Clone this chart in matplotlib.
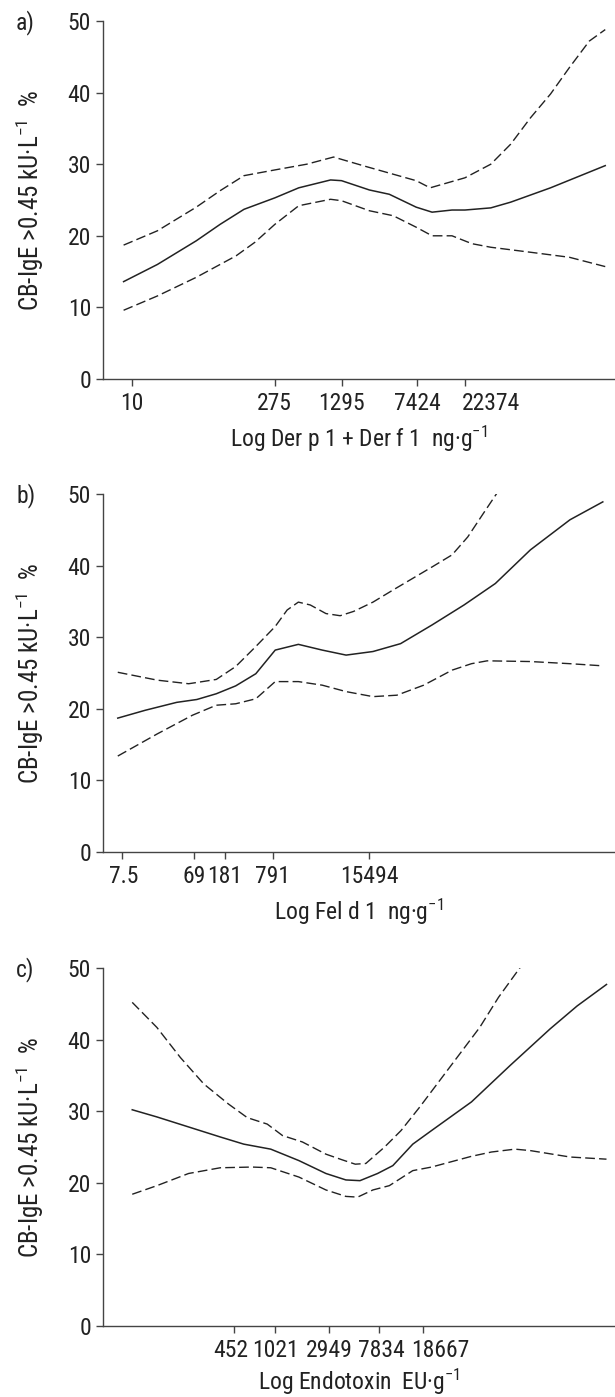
import numpy as np
import matplotlib.pyplot as plt
from matplotlib.transforms import ScaledTranslation

plt.rcParams['font.family'] = ['Roboto Condensed', 'DejaVu Sans']
plt.rcParams['mathtext.fontset'] = 'custom'
plt.rcParams['mathtext.rm'] = 'Roboto Condensed'
plt.rcParams['mathtext.it'] = 'Roboto Condensed'

# data: x as log10 of concentration, y as % CB-IgE > 0.45
# panel a: Der p 1 + Der f 1
a_ticks = ['10', '275', '1295', '7424', '22374']
a_x_fit = [0.92, 1.26, 1.65, 1.89, 2.13, 2.44, 2.68, 3.0, 3.11, 3.39, 3.59, 3.86, 4.02, 4.22,
           4.35, 4.61, 4.81, 5.21, 5.76]
a_fit = [13.6, 16.0, 19.3, 21.6, 23.7, 25.3, 26.7, 27.8, 27.7, 26.4, 25.8, 24.0, 23.3, 23.6,
         23.6, 23.9, 24.7, 26.7, 29.8]
a_x_up = [0.92, 1.26, 1.65, 1.89, 2.13, 2.44, 2.76, 3.03, 3.35, 3.63, 3.86, 4.0, 4.35, 4.61,
          4.81, 5.01, 5.21, 5.4, 5.6, 5.76]
a_up = [18.7, 20.7, 24.0, 26.3, 28.4, 29.2, 30.0, 31.0, 29.7, 28.6, 27.7, 26.7, 28.1, 30.0,
        32.8, 36.5, 39.8, 43.5, 47.2, 48.8]
a_x_lo = [0.92, 1.26, 1.65, 2.05, 2.24, 2.44, 2.68, 3.0, 3.11, 3.39, 3.63, 3.86, 4.02, 4.22,
          4.42, 4.61, 5.01, 5.4, 5.76]
a_lo = [9.6, 11.6, 14.2, 17.2, 19.1, 21.6, 24.2, 25.1, 24.9, 23.5, 22.8, 21.2, 20.0, 20.0,
        18.9, 18.4, 17.7, 17.0, 15.7]

# panel b: Fel d 1
b_ticks = ['7.5', '69', '181', '791', '15494']
b_x_fit = [0.82, 1.19, 1.61, 1.88, 2.14, 2.40, 2.67, 2.93, 3.24, 3.56, 3.88, 4.24, 4.61, 5.03,
           5.46, 5.88, 6.35, 6.88, 7.32]
b_fit = [18.7, 19.8, 20.9, 21.3, 22.1, 23.2, 24.9, 28.2, 29.0, 28.2, 27.5, 28.0, 29.1, 31.7,
         34.5, 37.5, 42.2, 46.4, 48.9]
b_x_up = [0.82, 1.35, 1.77, 2.14, 2.40, 2.67, 2.93, 3.09, 3.24, 3.40, 3.61, 3.80, 3.98, 4.24,
          4.51, 4.77, 5.03, 5.30, 5.51, 5.72, 5.90]
b_up = [25.1, 24.0, 23.5, 24.1, 25.9, 28.7, 31.5, 33.8, 34.9, 34.5, 33.3, 33.0, 33.6, 34.9,
        36.6, 38.2, 39.8, 41.5, 44.0, 47.3, 50.1]
b_x_lo = [0.82, 1.35, 1.82, 2.14, 2.40, 2.67, 2.93, 3.24, 3.56, 3.88, 4.24, 4.56, 4.92, 5.30,
          5.56, 5.77, 6.35, 6.88, 7.32]
b_lo = [13.4, 16.5, 19.1, 20.5, 20.7, 21.4, 23.8, 23.8, 23.3, 22.4, 21.7, 21.9, 23.3, 25.4,
        26.3, 26.7, 26.6, 26.3, 26.0]

# panel c: Endotoxin
c_ticks = ['452', '1021', '2949', '7834', '18667']
c_x_fit = [1.79, 2.00, 2.27, 2.54, 2.74, 2.97, 3.21, 3.44, 3.61, 3.73, 3.88, 4.01, 4.18, 4.34,
           4.68, 5.01, 5.35, 5.58, 5.83]
c_fit = [30.2, 29.2, 27.8, 26.4, 25.4, 24.7, 23.1, 21.3, 20.4, 20.3, 21.3, 22.4, 25.4, 27.3,
         31.3, 36.4, 41.5, 44.7, 47.7]
c_x_up = [1.79, 2.00, 2.20, 2.40, 2.61, 2.77, 2.94, 3.07, 3.24, 3.44, 3.58, 3.69, 3.78, 3.94,
          4.08, 4.24, 4.41, 4.58, 4.75, 4.91, 5.10]
c_up = [45.2, 41.7, 37.5, 33.8, 31.0, 29.1, 28.2, 26.6, 25.7, 24.0, 23.2, 22.6, 22.7, 25.0,
        27.3, 30.6, 34.3, 38.0, 41.7, 45.9, 50.2]
c_x_lo = [1.79, 2.00, 2.27, 2.54, 2.81, 2.97, 3.21, 3.44, 3.61, 3.71, 3.84, 3.98, 4.18, 4.34,
          4.68, 4.85, 5.05, 5.18, 5.52, 5.83]
c_lo = [18.4, 19.6, 21.3, 22.1, 22.2, 22.1, 20.8, 19.0, 18.1, 18.0, 19.0, 19.6, 21.7, 22.2,
        23.7, 24.3, 24.7, 24.5, 23.6, 23.3]

panels = [
    ('a)', a_ticks, [0, 0, 0, 0, 26], (0.713, 5.848), a_x_fit, a_fit, a_x_up, a_up, a_x_lo, a_lo,
     'Log Der p 1 + Der f 1  ng·g$^{-1}$', -0.125),
    ('b)', b_ticks, [2, 0, 0, 0, 0], (0.622, 7.47), b_x_fit, b_fit, b_x_up, b_up, b_x_lo, b_lo,
     'Log Fel d 1  ng·g$^{-1}$', -0.125),
    ('c)', c_ticks, [-3, 0, 0, 2, 17], (1.541, 5.894), c_x_fit, c_fit, c_x_up, c_up, c_x_lo, c_lo,
     'Log Endotoxin  EU·g$^{-1}$', -0.113),
]

W, H = 615, 1397
fig = plt.figure(figsize=(W / 100, H / 100), dpi=100)
col = '#222222'
tops = [21, 494, 968]
fs = 17

for (lab, ticks, shifts, xlim, xf, yf, xu, yu, xl, yl, xlab, xly), top in zip(panels, tops):
    ax = fig.add_axes([103 / W, 1 - (top + 358) / H, 511 / W, 358 / H])
    ax.plot(xf, yf, color=col, lw=1.1)
    ax.plot(xu, yu, color=col, lw=1.0, dashes=(7, 3))
    ax.plot(xl, yl, color=col, lw=1.0, dashes=(7, 3))
    ax.set_xlim(*xlim)
    ax.set_ylim(0, 50)
    ax.set_xticks(np.log10([float(t) for t in ticks]))
    ax.set_xticklabels(ticks)
    ax.set_yticks([0, 10, 20, 30, 40, 50])
    for s in ['top', 'right']:
        ax.spines[s].set_visible(False)
    for s in ['left', 'bottom']:
        ax.spines[s].set_color('#444444')
        ax.spines[s].set_linewidth(1.0)
    ax.tick_params(length=5, width=1.0, color='#444444', labelsize=fs, labelcolor=col)
    ax.tick_params(axis='x', pad=4.5)
    ax.tick_params(axis='y', pad=3.5)
    for tl, dx in zip(ax.get_xticklabels(), shifts):
        tl.set_transform(tl.get_transform() + ScaledTranslation(dx / 100, 0, fig.dpi_scale_trans))
    ax.set_xlabel(xlab, fontsize=fs, color=col)
    ax.xaxis.set_label_coords(0.5, xly)
    ax.set_ylabel('CB-IgE >0.45 kU·L$^{-1}$  %', fontsize=18, color=col)
    ax.yaxis.set_label_coords(-0.112, 0.5)
    fig.text(16 / W, 1 - (top + 2) / H, lab, fontsize=fs, color=col, va='center', ha='left')

fig.savefig('out.png', dpi=100)
